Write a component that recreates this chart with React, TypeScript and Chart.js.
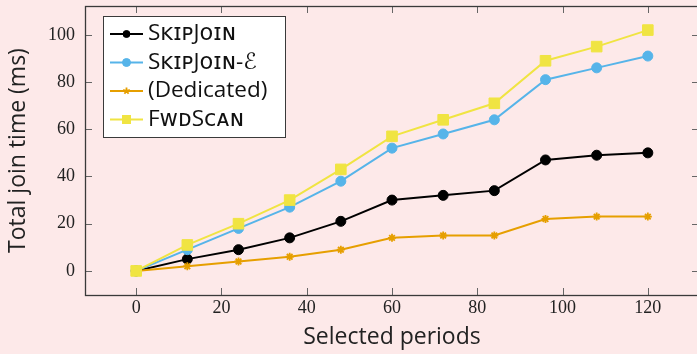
import React, { useEffect, useRef } from "react";
import { Chart, registerables } from "chart.js";

Chart.register(...registerables);

const periods = [0, 12, 24, 36, 48, 60, 72, 84, 96, 108, 120];
const skipJoin = [0, 5, 9, 14, 21, 30, 32, 34, 47, 49, 50];
const skipJoinE = [0, 9, 18, 27, 38, 52, 58, 64, 81, 86, 91];
const dedicated = [0, 2, 4, 6, 9, 14, 15, 15, 22, 23, 23];
const fwdScan = [0, 11, 20, 30, 43, 57, 64, 71, 89, 95, 102];
const xTicks = [0, 20, 40, 60, 80, 100, 120];
const yTicks = [0, 20, 40, 60, 80, 100];
const labels = ["SᴋɪᴘJᴏɪɴ", "SᴋɪᴘJᴏɪɴ-ℰ", "(Dedicated)", "FᴡᴅSᴄᴀɴ"];

const SANS = "'Open Sans', 'DejaVu Sans', sans-serif";
const SERIF = "'Liberation Serif', serif";
const BG = "#fde9e9";

const frame = {
  id: "frame",
  afterDraw(chart: any) {
    const { ctx, chartArea: a, scales } = chart;
    ctx.save();
    ctx.strokeStyle = "#666";
    ctx.lineWidth = 1;
    const tl = 7;
    for (const v of xTicks) {
      const x = Math.round(scales.x.getPixelForValue(v)) + 0.5;
      ctx.beginPath();
      ctx.moveTo(x, a.bottom);
      ctx.lineTo(x, a.bottom - tl);
      ctx.moveTo(x, a.top);
      ctx.lineTo(x, a.top + tl);
      ctx.stroke();
    }
    for (const v of yTicks) {
      const y = Math.round(scales.y.getPixelForValue(v)) + 0.5;
      ctx.beginPath();
      ctx.moveTo(a.left, y);
      ctx.lineTo(a.left + tl, y);
      ctx.moveTo(a.right, y);
      ctx.lineTo(a.right - tl, y);
      ctx.stroke();
    }
    ctx.strokeStyle = "#3a3a3a";
    ctx.lineWidth = 1.3;
    ctx.strokeRect(Math.round(a.left) + 0.5, Math.round(a.top) + 0.5, a.right - a.left, a.bottom - a.top);
    ctx.restore();
  },
};

const legendBox = {
  id: "legendBox",
  afterDatasetsDraw(chart: any) {
    const { ctx } = chart;
    const x0 = 103.5, y0 = 16.5, w = 182, h = 121;
    ctx.save();
    ctx.fillStyle = "#fff";
    ctx.fillRect(x0, y0, w, h);
    ctx.strokeStyle = "#3a3a3a";
    ctx.lineWidth = 1;
    ctx.strokeRect(x0, y0, w, h);
    const rows = [34, 62.5, 91, 119.5];
    chart.data.datasets.forEach((ds: any, i: number) => {
      const y = rows[i];
      ctx.strokeStyle = ds.borderColor;
      ctx.lineWidth = 2;
      ctx.beginPath();
      ctx.moveTo(110, y);
      ctx.lineTo(143, y);
      ctx.stroke();
      ctx.fillStyle = ds.pointBackgroundColor;
      ctx.strokeStyle = ds.pointBorderColor;
      ctx.lineWidth = ds.pointBorderWidth;
      const r = ds.legendR;
      if (ds.pointStyle === "circle") {
        ctx.beginPath();
        ctx.arc(126.5, y, r, 0, Math.PI * 2);
        ctx.fill();
        ctx.stroke();
      } else if (ds.pointStyle === "rect") {
        ctx.fillRect(126.5 - r, y - r, 2 * r, 2 * r);
      } else {
        ctx.beginPath();
        for (let k = 0; k < 5; k++) {
          const ang = -Math.PI / 2 + (k * 2 * Math.PI) / 5;
          ctx.moveTo(126.5, y);
          ctx.lineTo(126.5 + r * Math.cos(ang), y + r * Math.sin(ang));
        }
        ctx.stroke();
      }
      ctx.fillStyle = "#111";
      ctx.font = `22.5px ${SANS}`;
      ctx.textBaseline = "middle";
      ctx.textAlign = "left";
      ctx.fillText(ds.label, 148, y);
    });
    ctx.restore();
  },
};

export default function App() {
  const ref = useRef<HTMLCanvasElement>(null);
  useEffect(() => {
    if (!ref.current) return;
    const mk = (label: string, data: number[], color: string, style: string, r: number, order: number, legendR: number) => ({
      label,
      data: periods.map((p, i) => ({ x: p, y: data[i] })),
      borderColor: color,
      backgroundColor: color,
      pointBackgroundColor: color,
      pointBorderColor: color,
      pointBorderWidth: style === "star" ? 1.8 : 1,
      pointStyle: style,
      pointRadius: r,
      borderWidth: 2,
      order,
      legendR,
    });
    const chart = new Chart(ref.current, {
      type: "line",
      data: {
        datasets: [
          mk(labels[0], skipJoin, "#000000", "circle", 5, 3, 3.5),
          mk(labels[1], skipJoinE, "#56b4e9", "circle", 5, 2, 4),
          mk(labels[2], dedicated, "#e69f00", "star", 4, 1, 3.5),
          mk(labels[3], fwdScan, "#f0e442", "rect", 7.5, 0, 4.5),
        ] as any,
      },
      options: {
        animation: false,
        responsive: false,
        events: [],
        layout: { autoPadding: false, padding: { top: 6, right: 1, left: 0, bottom: 0 } },
        plugins: { legend: { display: false }, tooltip: { enabled: false } },
        scales: {
          x: {
            type: "linear",
            min: -12,
            max: 132,
            afterBuildTicks: (s: any) => {
              s.ticks = xTicks.map((v) => ({ value: v }));
            },
            afterFit: (s: any) => {
              s.height = 59;
              s.paddingLeft = 0;
              s.paddingRight = 0;
            },
            grid: { display: false, drawTicks: false },
            border: { display: false },
            ticks: { font: { family: SERIF, size: 18 }, color: "#222", padding: 2, maxRotation: 0 },
            title: {
              display: true,
              text: "Selected periods",
              font: { family: SANS, size: 23 },
              color: "#222",
              padding: { top: 0, bottom: 3 },
            },
          },
          y: {
            type: "linear",
            min: -10.2,
            max: 112.2,
            afterBuildTicks: (s: any) => {
              s.ticks = yTicks.map((v) => ({ value: v }));
            },
            afterFit: (s: any) => {
              s.width = 85;
              s.paddingTop = 0;
              s.paddingBottom = 0;
            },
            grid: { display: false, drawTicks: false },
            border: { display: false },
            ticks: { font: { family: SERIF, size: 18 }, color: "#222", padding: 10 },
            title: {
              display: true,
              text: "Total join time (ms)",
              font: { family: SANS, size: 23 },
              color: "#222",
              padding: { top: 5, bottom: 0 },
            },
          },
        },
      },
      plugins: [frame, legendBox],
    });
    return () => chart.destroy();
  }, []);
  return (
    <div style={{ position: "fixed", left: 0, top: 0, width: 697, height: 354, overflow: "hidden", background: BG }}>
      <canvas ref={ref} width={700} height={354} style={{ display: "block" }} />
    </div>
  );
}
